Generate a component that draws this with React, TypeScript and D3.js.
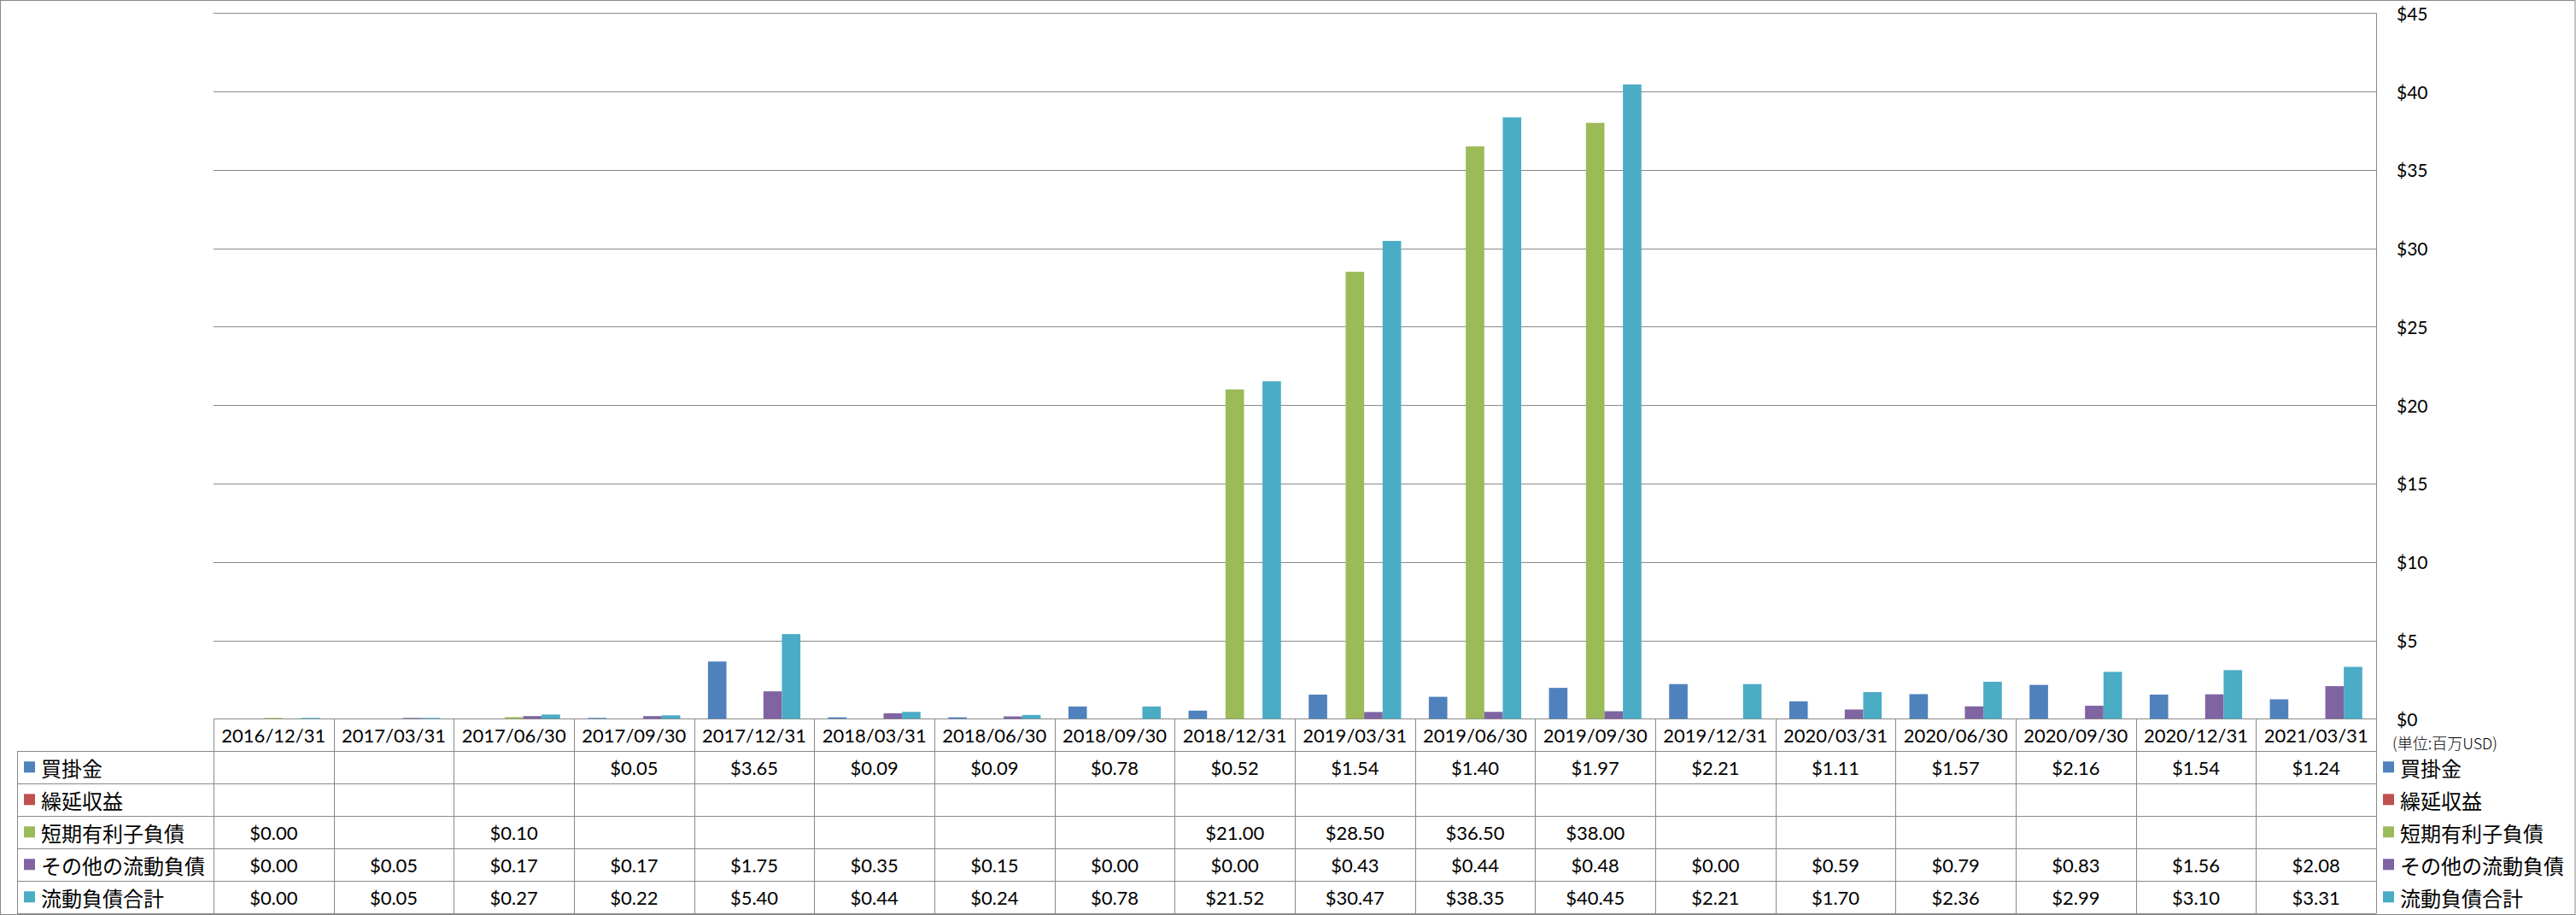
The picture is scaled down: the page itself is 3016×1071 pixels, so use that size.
import React, { useEffect } from "react";
import * as d3 from "d3";

const categories = [
  "2016/12/31", "2017/03/31", "2017/06/30", "2017/09/30", "2017/12/31", "2018/03/31",
  "2018/06/30", "2018/09/30", "2018/12/31", "2019/03/31", "2019/06/30", "2019/09/30",
  "2019/12/31", "2020/03/31", "2020/06/30", "2020/09/30", "2020/12/31", "2021/03/31",
];

const seriesNames = ["買掛金", "繰延収益", "短期有利子負債", "その他の流動負債", "流動負債合計"];
const seriesColors = ["#4F81BD", "#C0504D", "#9BBB59", "#8064A2", "#4BACC6"];

const accountsPayable: (number | null)[] = [null, null, null, 0.05, 3.65, 0.09, 0.09, 0.78, 0.52, 1.54, 1.40, 1.97, 2.21, 1.11, 1.57, 2.16, 1.54, 1.24];
const deferredRevenue: (number | null)[] = [null, null, null, null, null, null, null, null, null, null, null, null, null, null, null, null, null, null];
const shortTermDebt: (number | null)[] = [0.004, null, 0.10, null, null, null, null, null, 21.00, 28.50, 36.50, 38.00, null, null, null, null, null, null];
const otherCurrent: (number | null)[] = [0.00, 0.05, 0.17, 0.17, 1.75, 0.35, 0.15, 0.00, 0.00, 0.43, 0.44, 0.48, 0.00, 0.59, 0.79, 0.83, 1.56, 2.08];
const totalCurrent: (number | null)[] = [0.004, 0.05, 0.27, 0.22, 5.40, 0.44, 0.24, 0.78, 21.52, 30.47, 38.35, 40.45, 2.21, 1.70, 2.36, 2.99, 3.10, 3.31];

const seriesValues = [accountsPayable, deferredRevenue, shortTermDebt, otherCurrent, totalCurrent];

const yTicks = [0, 5, 10, 15, 20, 25, 30, 35, 40, 45];
const unitLabel = "(単位:百万USD)";

const W = 3016;
const H = 1071;
const plotLeft = 250;
const plotRight = 2782;
const plotTop = 15.3;
const plotBottom = 841.3;
const rowH = 38;
const tableLeft = 20;
const gridColor = "#898989";
const latin = "Lato, 'Noto Sans', sans-serif";
const cjk = "'Noto Sans CJK JP', 'Noto Sans', sans-serif";

export default function App() {
  useEffect(() => {
    document.body.style.margin = "0";
  }, []);

  const x = d3.scaleBand<string>().domain(categories).range([plotLeft, plotRight]).padding(0);
  const xs = d3
    .scaleBand<string>()
    .domain(seriesNames)
    .range([0, x.bandwidth()])
    .paddingInner(0)
    .paddingOuter(0.75);
  const y = d3.scaleLinear().domain([0, 45]).range([plotBottom, plotTop]);

  const fmt = (v: number | null) => (v === null ? "" : "$" + v.toFixed(2));
  const tableBottom = plotBottom + rowH * (seriesNames.length + 1);

  return (
    <svg
      width={W}
      height={H}
      style={{ position: "absolute", left: 0, top: 0, background: "#fff" }}
    >
      <rect x={0.5} y={0.5} width={W - 1.5} height={H - 1} fill="#fff" stroke={gridColor} strokeWidth={1} />

      {/* gridlines */}
      {yTicks.map((t) => (
        <line
          key={"g" + t}
          x1={plotLeft}
          x2={plotRight}
          y1={Math.round(y(t)) + 0.5}
          y2={Math.round(y(t)) + 0.5}
          stroke={gridColor}
          strokeWidth={1}
        />
      ))}

      {/* bars */}
      {seriesValues.map((vals, si) =>
        vals.map((v, ci) => {
          if (v === null || v <= 0) return null;
          const x0 = (x(categories[ci]) as number) + (xs(seriesNames[si]) as number);
          const top = y(v);
          const h = Math.max(1, plotBottom - top);
          return (
            <rect
              key={`b${si}-${ci}`}
              x={x0}
              y={plotBottom - h}
              width={xs.bandwidth()}
              height={h}
              fill={seriesColors[si]}
            />
          );
        })
      )}

      {/* right value axis line */}
      <line x1={plotRight + 0.5} x2={plotRight + 0.5} y1={plotTop} y2={tableBottom} stroke={gridColor} strokeWidth={1} />

      {/* y tick labels */}
      {yTicks.map((t) => (
        <text
          key={"t" + t}
          x={2806}
          y={y(t)}
          dominantBaseline="central"
          fontFamily={latin}
          fontSize={21}
          fill="#000"
        >
          {"$" + t}
        </text>
      ))}
      <text x={2801} y={869} dominantBaseline="central" fontFamily={cjk} fontSize={18} fontWeight={300} fill="#000">
        {unitLabel}
      </text>

      {/* table horizontal lines */}
      {d3.range(1, seriesNames.length + 2).map((r) => (
        <line
          key={"h" + r}
          x1={tableLeft}
          x2={plotRight}
          y1={Math.round(plotBottom + r * rowH) + 0.5}
          y2={Math.round(plotBottom + r * rowH) + 0.5}
          stroke={gridColor}
          strokeWidth={1}
        />
      ))}
      <line x1={tableLeft + 0.5} x2={tableLeft + 0.5} y1={plotBottom + rowH} y2={tableBottom} stroke={gridColor} strokeWidth={1} />
      {categories.map((c) => (
        <line
          key={"v" + c}
          x1={Math.round(x(c) as number) + 0.5}
          x2={Math.round(x(c) as number) + 0.5}
          y1={plotBottom}
          y2={tableBottom}
          stroke={gridColor}
          strokeWidth={1}
        />
      ))}

      {/* header dates */}
      {categories.map((c) => (
        <text
          key={"d" + c}
          x={(x(c) as number) + x.bandwidth() / 2}
          y={plotBottom + rowH / 2}
          textAnchor="middle"
          dominantBaseline="central"
          fontFamily={latin}
          fontSize={22}
          fill="#000"
        >
          {c}
        </text>
      ))}

      {/* table rows */}
      {seriesNames.map((s, si) => {
        const cy = plotBottom + rowH * (si + 1) + rowH / 2;
        return (
          <g key={"r" + s}>
            <rect x={28} y={cy - 7} width={13} height={13} fill={seriesColors[si]} />
            <text x={48} y={cy} dominantBaseline="central" fontFamily={cjk} fontSize={24} fill="#000">
              {s}
            </text>
            {seriesValues[si].map((v, ci) => (
              <text
                key={"c" + ci}
                x={(x(categories[ci]) as number) + x.bandwidth() / 2}
                y={cy}
                textAnchor="middle"
                dominantBaseline="central"
                fontFamily={latin}
                fontSize={22}
                fill="#000"
              >
                {fmt(v)}
              </text>
            ))}
            <rect x={2790} y={cy - 7} width={13} height={13} fill={seriesColors[si]} />
            <text x={2810} y={cy} dominantBaseline="central" fontFamily={cjk} fontSize={24} fill="#000">
              {s}
            </text>
          </g>
        );
      })}
    </svg>
  );
}
